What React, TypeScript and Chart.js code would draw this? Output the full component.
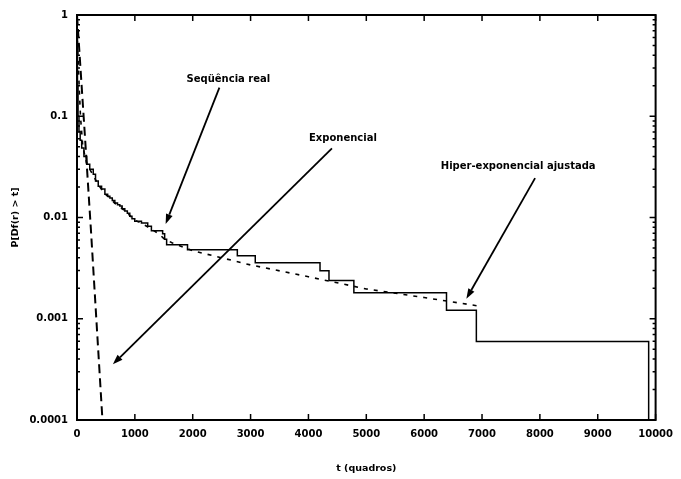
import React, { useEffect, useRef } from "react";
import { Chart, registerables } from "chart.js";

Chart.register(...registerables);

// Sequência real (step survival function): t (frames), P
const realT = [0, 8, 18, 34, 55, 81, 120, 167, 220, 281, 320, 367, 425, 482, 530, 568, 610, 654, 700, 740, 780, 826, 870, 912, 950, 998, 1114, 1222, 1286, 1480, 1515, 1549, 1910, 2771, 3081, 4200, 4355, 4785, 6386, 6902, 9880];
const realP = [0.6, 0.2, 0.1, 0.0708, 0.058, 0.0485, 0.04, 0.0336, 0.03, 0.0268, 0.023, 0.0204, 0.0191, 0.017, 0.0162, 0.0156, 0.0147, 0.0139, 0.0134, 0.013, 0.0122, 0.0116, 0.011, 0.0103, 0.0097, 0.0092, 0.0088, 0.0082, 0.0074, 0.0069, 0.0061, 0.00537, 0.00479, 0.00419, 0.00357, 0.00298, 0.00238, 0.00181, 0.00121, 0.000597, 0.0001];

// Exponencial
const expT = [0, 140, 241, 440];
const expP = [1, 0.06, 0.0075, 0.0001];

// Hiper-exponencial ajustada
const hypT = [0, 30, 60, 100, 170, 280, 370, 480, 570, 650, 740, 830, 910, 1000, 1110, 1220, 1300, 1430, 1500, 1650, 2000, 3000, 4000, 5000, 6000, 7000];
const hypP = [0.7, 0.25, 0.1, 0.05, 0.034, 0.026, 0.021, 0.0172, 0.0155, 0.0139, 0.0128, 0.0116, 0.0105, 0.0094, 0.0088, 0.0081, 0.0076, 0.0068, 0.0062, 0.0056, 0.0047, 0.0034, 0.0026, 0.00197, 0.00162, 0.00132];

// Axis ticks
const xTicks = [0, 1000, 2000, 3000, 4000, 5000, 6000, 7000, 8000, 9000, 10000];
const xTickLabels = ["0", "1000", "2000", "3000", "4000", "5000", "6000", "7000", "8000", "9000", "10000"];
const yTicks = [0.0001, 0.001, 0.01, 0.1, 1];
const yTickLabels = ["0.0001", "0.001", "0.01", "0.1", "1"];
const yMinorMultipliers = [2, 3, 4, 5, 6, 7, 8, 9];

// Annotations: label text, label position (t, P), arrow start (t, P), arrow tip (t, P)
const annLabels = ["Seqüência real", "Exponencial", "Hiper-exponencial ajustada"];
const annLabelPos = [[2616, 0.23], [4596, 0.0604], [7625, 0.0321]];
const annArrowFrom = [[2461, 0.192], [4406, 0.0482], [7917, 0.0245]];
const annArrowTo = [[1532, 0.00863], [620, 0.000355], [6730, 0.00158]];

const FONT = "'DejaVu Sans', sans-serif";

const pts = (ts: number[], ps: number[]) => ts.map((t, i) => ({ x: t, y: ps[i] }));

const framePlugin = {
  id: "frameAndAnnotations",
  afterDraw(chart: any) {
    const { ctx, chartArea, scales } = chart;
    const xs = scales.x;
    const ys = scales.y;
    const { left, right, top, bottom } = chartArea;
    ctx.save();
    ctx.strokeStyle = "#000";
    // ticks (inward, mirrored)
    ctx.lineWidth = 1.5;
    ctx.beginPath();
    xTicks.forEach((v) => {
      const px = xs.getPixelForValue(v);
      ctx.moveTo(px, bottom);
      ctx.lineTo(px, bottom - 6);
      ctx.moveTo(px, top);
      ctx.lineTo(px, top + 6);
    });
    yTicks.forEach((v) => {
      const py = ys.getPixelForValue(v);
      ctx.moveTo(left, py);
      ctx.lineTo(left + 6, py);
      ctx.moveTo(right, py);
      ctx.lineTo(right - 6, py);
    });
    yTicks.slice(0, -1).forEach((d) => {
      yMinorMultipliers.forEach((m) => {
        const py = ys.getPixelForValue(d * m);
        ctx.moveTo(left, py);
        ctx.lineTo(left + 3, py);
        ctx.moveTo(right, py);
        ctx.lineTo(right - 3, py);
      });
    });
    ctx.stroke();
    // frame
    ctx.lineWidth = 2;
    ctx.strokeRect(left, top, right - left, bottom - top);

    // annotations
    ctx.fillStyle = "#000";
    ctx.font = `bold 10px ${FONT}`;
    ctx.textAlign = "center";
    ctx.textBaseline = "middle";
    annLabels.forEach((txt, i) => {
      const lx = xs.getPixelForValue(annLabelPos[i][0]);
      const ly = ys.getPixelForValue(annLabelPos[i][1]);
      ctx.fillText(txt, lx, ly);
      const x0 = xs.getPixelForValue(annArrowFrom[i][0]);
      const y0 = ys.getPixelForValue(annArrowFrom[i][1]);
      const x1 = xs.getPixelForValue(annArrowTo[i][0]);
      const y1 = ys.getPixelForValue(annArrowTo[i][1]);
      const ang = Math.atan2(y1 - y0, x1 - x0);
      const hl = 10;
      const hw = 3.5;
      const bx = x1 - hl * Math.cos(ang);
      const by = y1 - hl * Math.sin(ang);
      ctx.lineWidth = 1.8;
      ctx.beginPath();
      ctx.moveTo(x0, y0);
      ctx.lineTo(bx, by);
      ctx.stroke();
      ctx.beginPath();
      ctx.moveTo(x1, y1);
      ctx.lineTo(bx + hw * Math.sin(ang), by - hw * Math.cos(ang));
      ctx.lineTo(bx - hw * Math.sin(ang), by + hw * Math.cos(ang));
      ctx.closePath();
      ctx.fill();
    });
    ctx.restore();
  },
};

export default function App() {
  const canvasRef = useRef<HTMLCanvasElement | null>(null);

  useEffect(() => {
    if (!canvasRef.current) return;
    const chart = new Chart(canvasRef.current, {
      type: "line",
      data: {
        datasets: [
          {
            label: "Seqüência real",
            data: pts(realT, realP),
            borderColor: "#000",
            borderWidth: 1.5,
            stepped: "before",
            pointRadius: 0,
            fill: false,
          },
          {
            label: "Exponencial",
            data: pts(expT, expP),
            borderColor: "#000",
            borderWidth: 2,
            borderDash: [9, 5],
            pointRadius: 0,
            fill: false,
            tension: 0,
          },
          {
            label: "Hiper-exponencial ajustada",
            data: pts(hypT, hypP),
            borderColor: "#000",
            borderWidth: 1.6,
            borderDash: [4, 6],
            pointRadius: 0,
            fill: false,
            tension: 0,
          },
        ],
      },
      options: {
        animation: false,
        responsive: true,
        maintainAspectRatio: false,
        layout: { padding: { top: 13, right: 23, left: 0, bottom: 0 } },
        plugins: { legend: { display: false }, tooltip: { enabled: false } },
        scales: {
          x: {
            type: "linear",
            min: 0,
            max: 10000,
            afterBuildTicks: (s: any) => {
              s.ticks = xTicks.map((v) => ({ value: v }));
            },
            afterFit: (s: any) => {
              s.height = 59;
            },
            ticks: {
              autoSkip: false,
              maxRotation: 0,
              padding: 8,
              color: "#000",
              font: { family: FONT, size: 10, weight: "bold" },
              callback: (_v: any, i: number) => xTickLabels[i],
            },
            grid: { display: false, drawTicks: false },
            border: { display: false },
            title: {
              display: true,
              text: "t (quadros)",
              color: "#000",
              font: { family: FONT, size: 9.5, weight: "bold" },
              padding: { top: 0, bottom: 5 },
            },
          },
          y: {
            type: "logarithmic",
            min: 0.0001,
            max: 1,
            afterBuildTicks: (s: any) => {
              s.ticks = yTicks.map((v) => ({ value: v, major: true }));
            },
            afterFit: (s: any) => {
              s.width = 77;
            },
            ticks: {
              autoSkip: false,
              padding: 9,
              color: "#000",
              font: { family: FONT, size: 10, weight: "bold" },
              callback: (_v: any, i: number) => yTickLabels[i],
            },
            grid: { display: false, drawTicks: false },
            border: { display: false },
            title: {
              display: true,
              text: "P[Df(r) > t]",
              color: "#000",
              font: { family: FONT, size: 9.5, weight: "bold" },
              padding: { top: 10, bottom: 0 },
            },
          },
        },
      },
      plugins: [framePlugin],
    } as any);
    return () => chart.destroy();
  }, []);

  return (
    <div style={{ position: "fixed", left: 0, top: 0, width: 681, height: 479, background: "#fff" }}>
      <canvas ref={canvasRef} />
    </div>
  );
}
